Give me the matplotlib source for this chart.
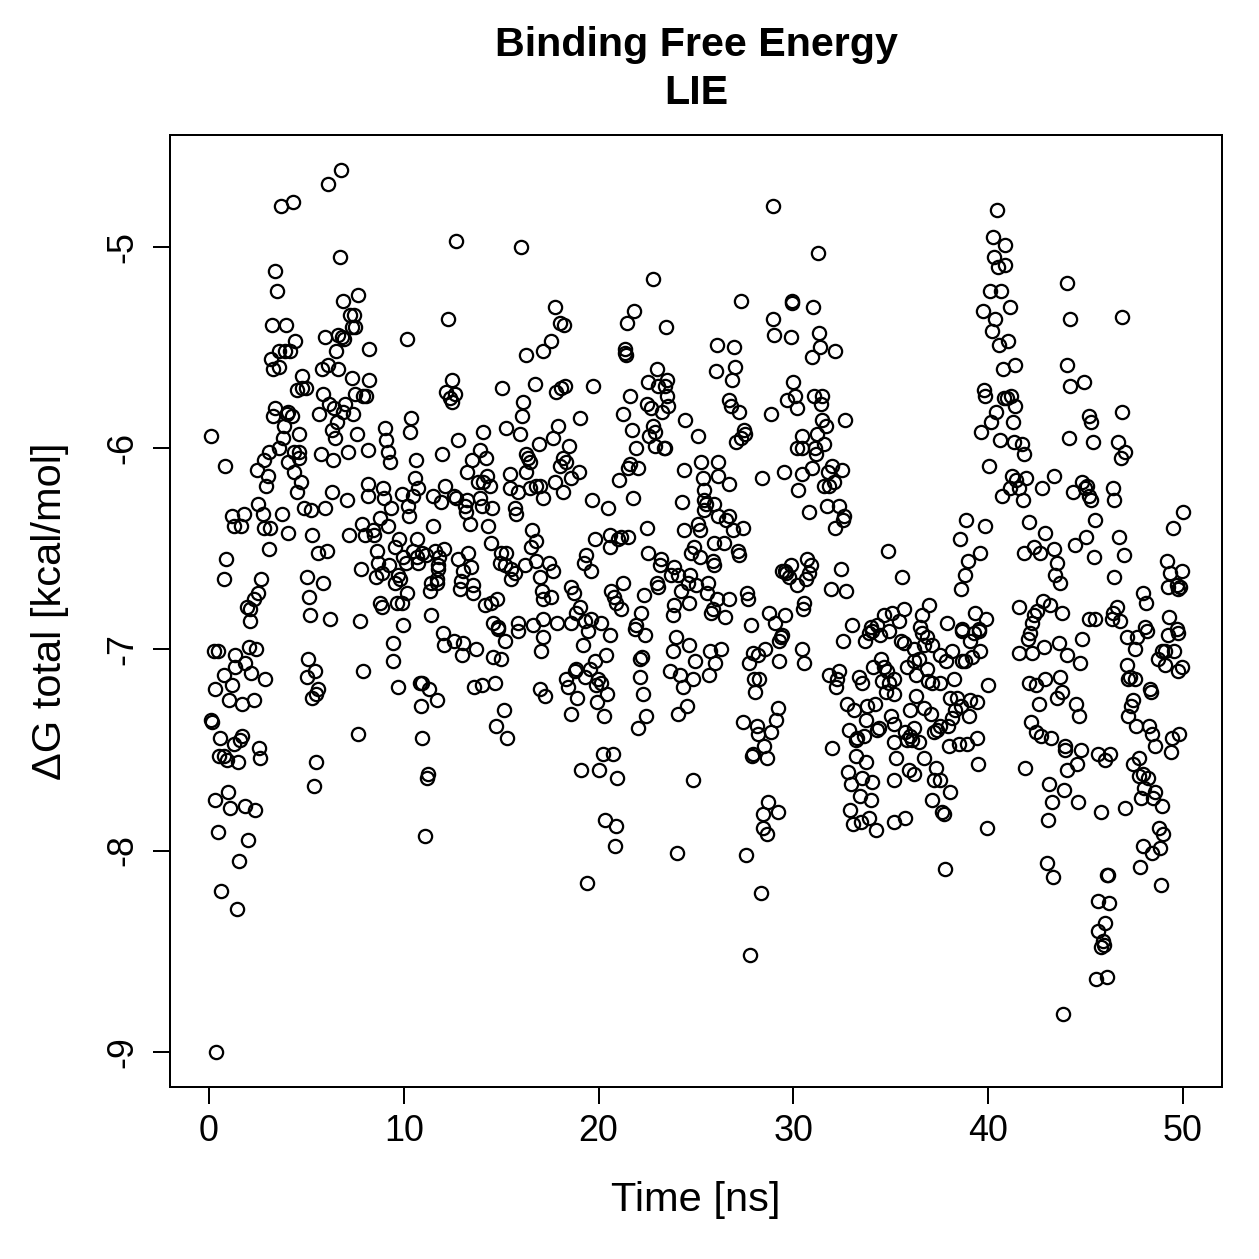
import numpy as np
import matplotlib
matplotlib.use('Agg')
import matplotlib.pyplot as plt

plt.rcParams['font.family'] = ['Liberation Sans', 'DejaVu Sans']
plt.rcParams['axes.unicode_minus'] = False

# (time [ns], dG [kcal/mol]), grouped by region
pts_0_8_upper = [
    (6.78, -4.62), (6.13, -4.69), (4.29, -4.78), (3.69, -4.80), (6.73, -5.05), (3.40, -5.12), (3.48, -5.22),
    (6.90, -5.27), (7.63, -5.24), (7.24, -5.34), (7.46, -5.34), (7.33, -5.40), (7.48, -5.40), (3.23, -5.39),
    (3.94, -5.39), (5.94, -5.45), (6.64, -5.44), (6.85, -5.45), (6.95, -5.46), (6.52, -5.52), (8.23, -5.51),
    (4.42, -5.47), (4.16, -5.52), (3.88, -5.52), (3.60, -5.52), (3.18, -5.56), (3.31, -5.61), (3.60, -5.60),
    (5.79, -5.61), (6.10, -5.59), (6.64, -5.61), (7.33, -5.65), (8.23, -5.66), (4.76, -5.64), (4.51, -5.71),
    (4.80, -5.70), (4.97, -5.70), (5.84, -5.73), (7.50, -5.73), (7.93, -5.74), (8.04, -5.74), (6.18, -5.78),
    (6.44, -5.80), (6.98, -5.78), (6.90, -5.82), (7.41, -5.83), (3.40, -5.80), (3.31, -5.84), (4.08, -5.82),
    (4.25, -5.84), (4.00, -5.83), (3.83, -5.89), (5.67, -5.83), (6.56, -5.87), (6.30, -5.91), (6.47, -5.95),
    (7.58, -5.93), (0.10, -5.94), (3.79, -5.95), (3.57, -6.00), (4.63, -5.93), (3.06, -6.02), (2.80, -6.06),
    (2.46, -6.11), (4.34, -6.02), (4.63, -6.02), (4.08, -6.07), (4.60, -6.05), (4.34, -6.12), (5.74, -6.03),
    (6.39, -6.06), (7.12, -6.02), (8.18, -6.01), (0.84, -6.09), (3.02, -6.14), (2.92, -6.19), (4.73, -6.17),
    (4.51, -6.22), (6.30, -6.22), (7.07, -6.26), (8.18, -6.18), (8.15, -6.24), (2.54, -6.28), (2.75, -6.33),
    (3.74, -6.33), (4.90, -6.30), (5.24, -6.31), (5.96, -6.30), (1.18, -6.34), (1.78, -6.33), (1.27, -6.39),
    (1.66, -6.39), (2.80, -6.40), (3.14, -6.40), (4.05, -6.42), (5.28, -6.43), (7.19, -6.43), (7.84, -6.38),
    (8.01, -6.43), (3.09, -6.50), (5.58, -6.52), (6.05, -6.51), (0.89, -6.55), (7.79, -6.60), (0.75, -6.65),
    (2.68, -6.65), (5.02, -6.64), (5.87, -6.67), (2.54, -6.72), (2.29, -6.75), (1.95, -6.79), (2.12, -6.80),
    (5.14, -6.74), (5.19, -6.83), (6.21, -6.85), (2.12, -6.86), (7.75, -6.86),
]
pts_0_8_lower = [
    (0.24, -7.01), (0.46, -7.01), (2.03, -6.99), (2.41, -7.00), (1.35, -7.03), (1.86, -7.07), (1.35, -7.09),
    (0.78, -7.13), (2.17, -7.12), (2.89, -7.15), (1.18, -7.18), (0.29, -7.20), (1.04, -7.25), (1.69, -7.27),
    (2.29, -7.25), (5.07, -7.05), (5.45, -7.11), (5.02, -7.14), (5.62, -7.20), (5.50, -7.22), (5.31, -7.24),
    (7.93, -7.11), (0.10, -7.35), (0.15, -7.36), (0.58, -7.44), (1.69, -7.43), (1.60, -7.45), (1.27, -7.47),
    (0.50, -7.53), (0.75, -7.53), (0.92, -7.55), (1.49, -7.56), (2.58, -7.49), (2.63, -7.54), (7.67, -7.42),
    (5.48, -7.56), (5.40, -7.68), (0.97, -7.71), (0.32, -7.75), (1.09, -7.79), (1.83, -7.78), (2.34, -7.80),
    (0.45, -7.91), (1.98, -7.95), (1.52, -8.05), (0.63, -8.20), (1.43, -8.29), (0.37, -9.00),
]
pts_8_17_upper = [
    (12.67, -4.97), (16.00, -5.00), (12.28, -5.36), (10.18, -5.46), (16.26, -5.54), (17.15, -5.52),
    (12.45, -5.66), (12.19, -5.72), (12.62, -5.73), (12.36, -5.75), (12.45, -5.77), (15.06, -5.70),
    (16.72, -5.68), (16.12, -5.77), (16.07, -5.84), (15.98, -5.93), (10.36, -5.85), (10.31, -5.92),
    (9.03, -5.90), (9.08, -5.96), (9.21, -6.02), (9.29, -6.07), (14.07, -5.92), (15.23, -5.90),
    (12.79, -5.96), (16.93, -5.98), (10.62, -6.06), (11.94, -6.03), (13.90, -6.01), (13.52, -6.06),
    (14.24, -6.05), (16.29, -6.03), (16.38, -6.05), (16.46, -6.07), (13.22, -6.12), (10.57, -6.15),
    (10.74, -6.20), (13.82, -6.17), (14.07, -6.17), (14.28, -6.14), (14.41, -6.19), (15.47, -6.13),
    (16.26, -6.12), (8.95, -6.20), (8.98, -6.25), (9.89, -6.23), (10.49, -6.24), (12.14, -6.19),
    (11.51, -6.24), (11.89, -6.27), (12.57, -6.24), (12.70, -6.25), (13.22, -6.26), (15.44, -6.20),
    (15.86, -6.22), (16.50, -6.20), (16.80, -6.19), (16.97, -6.19), (13.90, -6.25), (13.99, -6.29),
    (14.55, -6.30), (13.13, -6.29), (13.18, -6.32), (9.32, -6.30), (10.23, -6.29), (10.28, -6.34),
    (15.69, -6.30), (15.78, -6.33), (17.15, -6.25), (8.78, -6.35), (11.48, -6.39), (13.38, -6.38),
    (14.32, -6.39), (16.60, -6.41), (8.44, -6.41), (8.47, -6.43), (9.21, -6.39), (9.77, -6.45),
    (9.55, -6.49), (10.66, -6.45), (8.61, -6.51), (14.46, -6.47), (16.80, -6.46), (16.55, -6.49),
    (10.49, -6.51), (10.91, -6.52), (11.13, -6.53), (9.97, -6.54), (10.66, -6.54), (11.60, -6.51),
    (12.06, -6.50), (11.82, -6.54), (13.30, -6.52), (12.79, -6.55), (15.01, -6.52), (15.27, -6.52),
    (14.92, -6.57), (15.18, -6.58), (16.77, -6.56), (16.21, -6.58), (8.69, -6.57), (9.26, -6.58),
    (10.11, -6.57), (10.74, -6.57), (11.77, -6.58), (11.77, -6.60), (13.05, -6.61), (13.47, -6.59),
    (15.52, -6.60), (15.69, -6.62), (15.52, -6.65), (16.97, -6.64), (8.57, -6.64), (8.86, -6.62),
    (9.55, -6.67), (9.80, -6.65), (9.72, -6.63), (11.42, -6.67), (11.68, -6.67), (11.34, -6.71),
    (11.73, -6.65), (12.96, -6.66), (12.87, -6.70), (13.56, -6.68), (13.56, -6.72), (10.14, -6.72),
    (9.63, -6.77), (9.89, -6.77), (8.78, -6.77), (8.86, -6.79), (14.15, -6.78), (14.50, -6.77),
    (14.79, -6.75), (17.11, -6.71), (17.15, -6.75), (11.42, -6.83), (9.97, -6.88), (14.58, -6.87),
    (14.84, -6.89), (15.86, -6.87), (16.63, -6.88), (17.15, -6.85),
]
pts_8_17_lower = [
    (9.43, -6.97), (9.46, -7.06), (11.99, -6.92), (12.06, -6.98), (12.57, -6.96), (13.05, -6.97),
    (13.00, -7.03), (13.73, -7.00), (14.84, -6.90), (15.18, -6.96), (14.58, -7.04), (15.01, -7.05),
    (15.86, -6.91), (17.15, -6.94), (17.06, -7.01), (9.68, -7.19), (10.83, -7.17), (10.91, -7.17),
    (11.30, -7.20), (11.68, -7.25), (10.88, -7.28), (13.59, -7.19), (14.04, -7.18), (14.70, -7.17),
    (15.13, -7.30), (14.72, -7.38), (15.32, -7.44), (17.01, -7.20), (17.23, -7.23), (10.96, -7.44),
    (11.22, -7.62), (11.17, -7.64), (11.08, -7.93),
]
pts_17_26_upper = [
    (22.81, -5.16), (17.78, -5.30), (18.00, -5.38), (18.22, -5.39), (17.54, -5.47), (21.81, -5.32),
    (21.46, -5.38), (23.46, -5.40), (21.36, -5.51), (21.33, -5.53), (21.41, -5.54), (26.08, -5.49),
    (26.02, -5.62), (17.83, -5.72), (18.08, -5.70), (18.29, -5.69), (19.71, -5.69), (23.00, -5.61),
    (22.56, -5.67), (23.04, -5.69), (23.51, -5.66), (23.41, -5.69), (23.51, -5.74), (23.58, -5.79),
    (22.49, -5.78), (22.69, -5.80), (23.24, -5.82), (21.62, -5.74), (21.24, -5.83), (19.02, -5.85),
    (24.44, -5.86), (17.92, -5.89), (17.66, -5.95), (18.48, -5.99), (21.72, -5.91), (21.93, -6.00),
    (22.78, -5.89), (22.92, -5.92), (22.61, -5.94), (22.87, -5.99), (23.35, -6.00), (23.41, -6.00),
    (25.12, -5.94), (18.17, -6.05), (18.00, -6.09), (18.34, -6.07), (18.97, -6.12), (18.56, -6.15),
    (17.74, -6.17), (18.17, -6.22), (21.59, -6.08), (21.53, -6.10), (22.01, -6.10), (21.07, -6.16),
    (21.75, -6.25), (19.67, -6.26), (20.48, -6.30), (24.40, -6.11), (25.26, -6.07), (25.34, -6.15),
    (25.42, -6.21), (25.42, -6.26), (25.39, -6.31), (25.51, -6.28), (26.15, -6.07), (26.15, -6.14),
    (24.26, -6.27), (25.94, -6.28), (26.15, -6.34), (22.49, -6.40), (19.83, -6.45), (20.56, -6.43),
    (20.61, -6.49), (21.02, -6.45), (21.16, -6.44), (21.53, -6.44), (24.36, -6.41), (25.08, -6.38),
    (25.22, -6.41), (19.36, -6.53), (19.25, -6.57), (19.59, -6.61), (17.48, -6.57), (17.66, -6.61),
    (22.56, -6.52), (23.21, -6.55), (23.17, -6.58), (24.91, -6.49), (24.74, -6.52), (25.22, -6.54),
    (25.86, -6.56), (25.94, -6.47), (25.91, -6.58), (23.89, -6.59), (23.72, -6.63), (24.06, -6.63),
    (24.71, -6.63), (24.57, -6.67), (25.00, -6.68), (25.60, -6.67), (25.56, -6.72), (18.60, -6.69),
    (18.73, -6.72), (17.57, -6.74), (20.64, -6.71), (20.78, -6.74), (21.24, -6.67), (20.90, -6.77),
    (21.16, -6.80), (23.00, -6.67), (23.07, -6.69), (22.32, -6.73), (22.18, -6.82), (24.23, -6.71),
    (24.66, -6.77), (23.89, -6.78), (23.80, -6.83), (26.10, -6.75), (25.77, -6.82), (25.86, -6.80),
    (19.07, -6.79), (18.85, -6.82), (19.28, -6.86), (19.62, -6.85), (20.13, -6.87), (17.88, -6.87),
    (18.60, -6.87), (21.93, -6.88),
]
pts_17_26_lower = [
    (19.45, -6.91), (20.56, -6.93), (19.20, -6.98), (20.39, -7.03), (19.79, -7.06), (19.54, -7.10),
    (18.85, -7.10), (18.77, -7.11), (19.28, -7.14), (18.34, -7.15), (18.43, -7.19), (18.90, -7.24),
    (19.96, -7.15), (20.10, -7.17), (19.88, -7.18), (20.44, -7.22), (19.93, -7.26), (18.60, -7.32),
    (20.27, -7.33), (21.88, -6.90), (22.39, -6.93), (22.10, -7.05), (22.22, -7.04), (22.13, -7.14),
    (22.27, -7.22), (22.44, -7.33), (22.01, -7.39), (23.98, -6.94), (23.80, -7.01), (24.65, -6.98),
    (24.96, -7.06), (25.72, -7.01), (25.98, -7.07), (23.64, -7.11), (24.20, -7.13), (24.83, -7.15),
    (24.33, -7.19), (25.68, -7.13), (24.52, -7.28), (24.09, -7.32), (20.22, -7.52), (20.76, -7.52),
    (19.11, -7.60), (20.00, -7.60), (20.95, -7.64), (24.86, -7.65), (20.31, -7.85), (20.87, -7.88),
    (20.82, -7.98), (24.01, -8.01), (19.42, -8.16),
]
pts_26_35_upper = [
    (28.96, -4.80), (31.27, -5.03), (27.30, -5.27), (29.95, -5.27), (29.92, -5.28), (31.01, -5.30),
    (28.93, -5.36), (29.01, -5.44), (29.87, -5.45), (31.32, -5.43), (31.37, -5.50), (30.98, -5.55),
    (32.14, -5.52), (26.96, -5.50), (27.00, -5.60), (26.84, -5.66), (30.00, -5.67), (30.09, -5.74),
    (29.66, -5.76), (30.17, -5.80), (31.06, -5.74), (31.49, -5.74), (31.40, -5.78), (26.67, -5.76),
    (26.79, -5.79), (27.19, -5.82), (28.84, -5.83), (31.45, -5.86), (31.66, -5.89), (32.65, -5.86),
    (27.48, -5.91), (27.53, -5.93), (27.05, -5.97), (27.30, -5.95), (30.46, -5.94), (30.20, -6.00),
    (30.43, -6.00), (31.23, -5.93), (31.57, -5.98), (31.11, -6.00), (31.15, -6.03), (26.71, -6.18),
    (28.37, -6.15), (29.53, -6.12), (30.43, -6.13), (30.26, -6.21), (30.93, -6.10), (32.00, -6.09),
    (31.80, -6.12), (32.48, -6.11), (32.09, -6.17), (31.57, -6.19), (31.83, -6.19), (26.71, -6.34),
    (26.53, -6.36), (26.90, -6.41), (27.39, -6.40), (30.81, -6.32), (31.71, -6.29), (32.34, -6.29),
    (32.60, -6.34), (32.55, -6.36), (32.12, -6.40), (26.45, -6.47), (27.14, -6.51), (27.22, -6.53),
    (34.85, -6.51), (32.43, -6.60), (30.72, -6.55), (30.89, -6.58), (30.81, -6.62), (30.64, -6.65),
    (30.21, -6.68), (29.87, -6.58), (29.44, -6.61), (29.64, -6.62), (29.78, -6.64), (29.57, -6.61),
    (31.92, -6.70), (32.72, -6.71), (27.61, -6.72), (27.68, -6.75), (26.67, -6.75), (26.50, -6.84),
    (30.55, -6.77), (30.47, -6.80), (28.76, -6.82), (29.58, -6.83), (29.07, -6.87), (27.82, -6.88),
    (33.03, -6.88), (33.97, -6.89), (34.31, -6.88), (34.65, -6.83), (35.04, -6.82),
]
pts_26_35_lower = [
    (29.35, -6.94), (29.27, -6.96), (29.43, -6.93), (30.46, -7.00), (30.55, -7.07), (26.28, -7.00),
    (28.56, -7.00), (27.94, -7.02), (28.16, -7.03), (27.70, -7.07), (29.27, -7.06), (27.99, -7.15),
    (28.25, -7.15), (28.04, -7.21), (29.19, -7.29), (29.10, -7.35), (28.84, -7.41), (28.11, -7.38),
    (28.16, -7.42), (27.42, -7.36), (28.50, -7.48), (27.94, -7.52), (27.87, -7.53), (28.67, -7.54),
    (28.72, -7.76), (28.46, -7.82), (29.19, -7.81), (28.42, -7.89), (28.62, -7.92), (27.56, -8.02),
    (28.33, -8.21), (27.77, -8.52), (32.55, -6.96), (33.68, -6.96), (33.89, -6.92), (34.05, -6.91),
    (34.47, -6.93), (34.90, -6.91), (31.83, -7.13), (32.34, -7.11), (32.26, -7.15), (32.17, -7.19),
    (33.37, -7.14), (33.54, -7.17), (34.08, -7.09), (34.48, -7.05), (34.65, -7.09), (34.82, -7.11),
    (34.56, -7.16), (34.90, -7.17), (34.73, -7.21), (35.16, -7.15), (35.16, -7.22), (32.77, -7.27),
    (33.11, -7.30), (33.79, -7.28), (34.19, -7.27), (33.71, -7.35), (34.99, -7.33), (35.16, -7.37),
    (32.85, -7.40), (33.20, -7.45), (33.28, -7.44), (33.62, -7.43), (34.31, -7.40), (34.39, -7.39),
    (35.16, -7.46), (35.25, -7.54), (31.97, -7.49), (33.23, -7.53), (33.74, -7.56), (32.82, -7.61),
    (32.94, -7.67), (33.50, -7.64), (34.05, -7.66), (35.16, -7.65), (33.40, -7.73), (34.00, -7.75),
    (32.90, -7.80), (33.06, -7.87), (33.49, -7.86), (33.88, -7.84), (34.26, -7.90), (35.16, -7.86),
]
pts_35_44_upper = [
    (40.46, -4.82), (40.25, -4.95), (40.88, -4.99), (40.32, -5.05), (40.49, -5.10), (40.85, -5.09),
    (40.08, -5.22), (40.68, -5.22), (41.10, -5.30), (39.74, -5.32), (40.37, -5.36), (40.20, -5.42),
    (40.54, -5.49), (41.00, -5.47), (40.76, -5.61), (41.36, -5.59), (44.04, -5.18), (44.21, -5.36),
    (44.04, -5.59), (44.21, -5.69), (44.13, -5.95), (39.77, -5.71), (39.86, -5.74), (40.80, -5.75),
    (40.97, -5.75), (41.17, -5.74), (41.39, -5.79), (40.42, -5.82), (40.15, -5.87), (39.65, -5.92),
    (41.27, -5.87), (40.59, -5.96), (41.31, -5.97), (41.74, -5.98), (41.82, -6.03), (40.06, -6.09),
    (41.22, -6.14), (41.44, -6.16), (41.96, -6.15), (41.10, -6.20), (41.56, -6.20), (40.71, -6.24),
    (41.79, -6.26), (42.76, -6.20), (43.39, -6.14), (38.88, -6.36), (39.82, -6.39), (38.54, -6.45),
    (42.08, -6.37), (42.90, -6.42), (39.60, -6.52), (38.95, -6.56), (38.80, -6.63), (38.61, -6.70),
    (41.86, -6.52), (42.37, -6.49), (42.67, -6.52), (43.36, -6.50), (43.53, -6.57), (43.44, -6.63),
    (43.66, -6.67), (35.59, -6.64), (35.67, -6.80), (35.42, -6.86), (36.61, -6.83), (36.95, -6.78),
    (36.49, -6.89), (37.89, -6.87), (38.66, -6.90), (39.34, -6.82), (39.91, -6.85), (39.51, -6.90),
    (41.56, -6.79), (42.50, -6.81), (42.81, -6.76), (43.19, -6.78), (43.79, -6.82), (42.33, -6.83),
    (42.25, -6.87),
]
pts_35_44_lower = [
    (36.61, -6.92), (36.87, -6.94), (38.66, -6.91), (39.25, -6.92), (39.51, -6.91), (39.09, -6.96),
    (35.67, -6.97), (35.50, -6.96), (36.18, -7.00), (36.69, -6.98), (37.12, -6.98), (37.55, -7.03),
    (37.81, -7.06), (38.15, -7.01), (38.66, -7.06), (38.83, -7.06), (39.17, -7.04), (39.60, -7.01),
    (35.85, -7.09), (36.18, -7.06), (36.44, -7.05), (36.87, -7.10), (36.31, -7.13), (36.92, -7.16),
    (37.10, -7.17), (37.53, -7.17), (38.22, -7.15), (40.00, -7.18), (36.27, -7.23), (38.06, -7.24),
    (38.41, -7.24), (39.09, -7.25), (39.40, -7.26), (38.58, -7.28), (38.32, -7.30), (35.96, -7.30),
    (36.69, -7.29), (37.04, -7.32), (38.15, -7.34), (37.92, -7.38), (37.55, -7.38), (37.37, -7.40),
    (37.20, -7.41), (38.99, -7.33), (35.74, -7.41), (36.20, -7.39), (35.96, -7.43), (36.10, -7.45),
    (35.85, -7.45), (36.44, -7.46), (37.97, -7.48), (38.48, -7.47), (38.91, -7.47), (39.40, -7.44),
    (36.69, -7.54), (35.92, -7.60), (36.18, -7.62), (37.33, -7.59), (37.20, -7.65), (37.55, -7.65),
    (38.03, -7.71), (37.12, -7.75), (37.64, -7.81), (37.72, -7.82), (39.46, -7.57), (35.71, -7.84),
    (39.94, -7.89), (37.76, -8.09), (42.16, -6.92), (42.02, -6.95), (43.61, -6.97), (41.56, -7.02),
    (42.25, -7.02), (42.85, -6.99), (44.04, -7.03), (42.08, -7.17), (42.47, -7.18), (42.93, -7.15),
    (43.70, -7.14), (43.78, -7.21), (43.53, -7.24), (42.59, -7.27), (42.20, -7.36), (42.47, -7.41),
    (42.71, -7.43), (43.22, -7.44), (43.95, -7.48), (43.95, -7.50), (41.91, -7.59), (44.04, -7.60),
    (43.10, -7.67), (43.87, -7.70), (43.27, -7.76), (43.05, -7.85), (43.02, -8.06), (43.30, -8.13),
    (43.84, -8.81),
]
pts_44_50_upper = [
    (46.86, -5.35), (44.94, -5.67), (46.89, -5.82), (45.18, -5.84), (45.29, -5.87), (45.36, -5.97),
    (46.66, -5.97), (47.03, -6.02), (46.82, -6.05), (44.81, -6.17), (45.06, -6.19), (44.98, -6.20),
    (45.15, -6.24), (45.29, -6.26), (44.33, -6.22), (46.43, -6.20), (46.48, -6.26), (45.46, -6.36),
    (50.01, -6.32), (49.49, -6.40), (45.01, -6.44), (44.47, -6.48), (45.41, -6.54), (46.71, -6.44),
    (46.97, -6.53), (46.48, -6.64), (49.16, -6.56), (49.33, -6.62), (49.93, -6.61), (49.22, -6.69),
    (49.68, -6.68), (49.85, -6.69), (49.73, -6.70), (47.93, -6.72), (48.11, -6.77), (46.60, -6.79),
    (46.43, -6.82), (46.35, -6.85), (46.77, -6.86), (45.15, -6.85), (45.49, -6.85), (49.29, -6.84),
    (48.05, -6.89), (49.68, -6.90),
]
pts_44_50_lower = [
    (44.81, -6.95), (47.12, -6.94), (47.63, -6.94), (47.51, -7.00), (48.15, -6.91), (49.25, -6.93),
    (49.73, -6.92), (48.91, -7.01), (49.08, -7.01), (49.55, -7.01), (48.70, -7.05), (49.08, -7.08),
    (49.93, -7.09), (49.76, -7.11), (44.72, -7.07), (47.12, -7.08), (47.28, -7.14), (47.54, -7.15),
    (47.20, -7.15), (48.31, -7.20), (48.36, -7.21), (44.52, -7.27), (44.64, -7.33), (47.45, -7.25),
    (47.34, -7.28), (47.20, -7.33), (47.60, -7.38), (48.27, -7.38), (48.43, -7.42), (48.57, -7.48),
    (49.45, -7.44), (49.81, -7.42), (49.39, -7.51), (44.77, -7.50), (44.55, -7.57), (44.61, -7.76),
    (45.66, -7.52), (45.97, -7.55), (46.26, -7.52), (47.75, -7.54), (47.41, -7.57), (47.92, -7.62),
    (47.72, -7.63), (48.19, -7.64), (48.02, -7.69), (47.85, -7.74), (48.57, -7.71), (48.48, -7.74),
    (48.94, -7.78), (45.80, -7.81), (47.03, -7.79), (48.77, -7.89), (48.99, -7.92), (47.97, -7.98),
    (48.43, -8.01), (48.82, -7.99), (47.80, -8.08), (48.86, -8.17), (46.09, -8.12), (46.14, -8.12),
    (45.61, -8.25), (46.21, -8.26), (46.00, -8.36), (45.66, -8.40), (45.87, -8.45), (45.80, -8.48),
    (45.92, -8.47), (45.54, -8.64), (46.12, -8.63),
]

x_ticks = [0, 10, 20, 30, 40, 50]
y_ticks = [-9, -8, -7, -6, -5]

all_pts = np.array(pts_0_8_upper + pts_0_8_lower + pts_8_17_upper + pts_8_17_lower
                   + pts_17_26_upper + pts_17_26_lower + pts_26_35_upper + pts_26_35_lower
                   + pts_35_44_upper + pts_35_44_lower + pts_44_50_upper + pts_44_50_lower)
time = all_pts[:, 0]
dG = all_pts[:, 1]

W = 1259
fig = plt.figure(figsize=(7, 7), dpi=W / 7)
ax = fig.add_axes([170 / W, 1 - 1087 / W, (1222 - 170) / W, (1087 - 135) / W])

ax.plot(time, dG, 'o', mfc='none', mec='black', ms=5.3, mew=0.9, linestyle='none')

ax.set_xlim(-2, 52)
ax.set_ylim(-9.175, -4.445)
ax.set_xticks(x_ticks)
ax.set_xticklabels([str(v) for v in x_ticks])
ax.set_yticks(y_ticks)
ax.set_yticklabels([str(v) for v in y_ticks], rotation=90, va='center')
ax.tick_params(direction='out', length=7, width=0.8, labelsize=14.4, color='black')
ax.tick_params(axis='x', pad=4)
ax.tick_params(axis='y', pad=5)
for s in ax.spines.values():
    s.set_linewidth(0.8)

fig.text(696 / W, 1 - 45 / W, 'Binding Free Energy', ha='center', va='center',
         fontsize=16.5, fontweight='bold')
fig.text(696 / W, 1 - 93 / W, 'LIE', ha='center', va='center',
         fontsize=16.5, fontweight='bold')
fig.text(696 / W, 1 - 1200 / W, 'Time [ns]', ha='center', va='center', fontsize=16.7)
fig.text(50 / W, 1 - 611 / W, 'ΔG total [kcal/mol]', ha='center', va='center',
         rotation=90, fontsize=16.7)

fig.savefig('out.png', dpi=W / 7)
